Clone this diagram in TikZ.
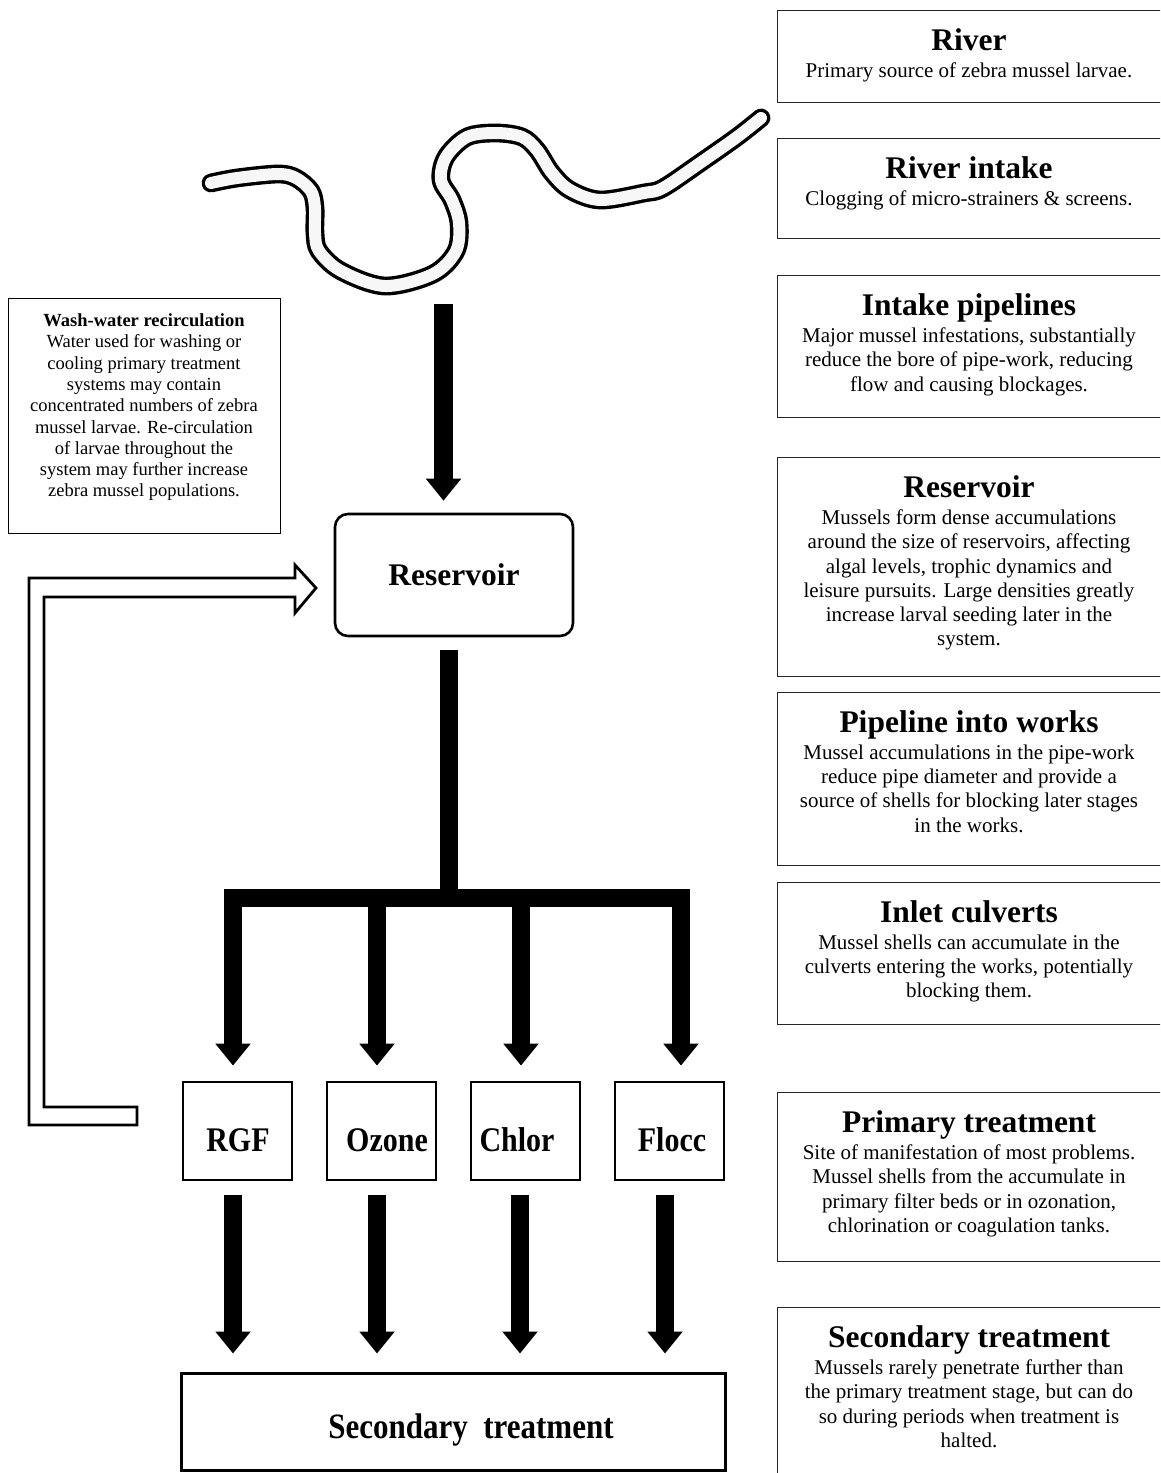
\documentclass[tikz,border=0pt]{standalone}
\usepackage{fontspec}
\setmainfont{Liberation Serif}
\usepackage{graphicx}
\usetikzlibrary{arrows.meta,calc}
\newcommand\infobox[5]{%
  \pgfmathsetmacro\ibh{#3-#2}%
  \node[ibox, minimum height=\ibh pt] (#1) at (777,#2) {};
  \node[ititle] (#1t) at (969,#2+40.6) {#4};
  \node[ibody] (#1b) at (969,#2+52.5) {#5};
}
\begin{document}
\begin{tikzpicture}[x=1pt,y=-1pt,
  ibox/.style={draw=black!85, line width=1.3pt, minimum width=390pt, inner sep=0pt, anchor=north west},
  ititle/.style={font=\fontsize{31.5}{36}\selectfont\bfseries, anchor=base, inner sep=0pt},
  ibody/.style={font=\fontsize{21}{24.3}\selectfont, align=center, anchor=north, inner sep=0pt},
  washbox/.style={draw=black, line width=1.3pt, anchor=north west, inner sep=0pt},
  washtext/.style={font=\fontsize{18.5}{21.3}\selectfont, align=center, anchor=north, inner sep=0pt},
  resbox/.style={draw=black, line width=2.6pt, rounded corners=13pt, minimum width=238pt, minimum height=122pt, inner sep=0pt, font=\fontsize{31.5}{36}\selectfont\bfseries},
  pbox/.style={draw=black, line width=2.8pt, minimum width=109pt, minimum height=98pt, inner sep=0pt},
  ptext/.style={font=\fontsize{30}{34}\selectfont\bfseries, anchor=base, inner sep=0pt},
  bigarrow/.style={line width=18.5pt, -{Triangle[width=34pt,length=22pt]}},
  bar/.style={line width=18pt},
  hollow/.style={draw=black, line width=2.8pt, fill=white, line join=miter},
  river/.style={draw=black, line width=3.4pt, double=white!97!black, double distance=12pt, line cap=round, line join=round},
]
\useasboundingbox (0,0) rectangle (1160,1473);
\fill[white] (0,0) rectangle (1160,1473);
\clip (0,0) rectangle (1160,1473);

% river
\draw[river] plot[smooth, tension=0.55] coordinates {
 (211,183) (237,178) (278,174) (296,178) (311,191) (315,208) (315,233)
 (319,251) (341,271) (385,286) (433,274) (456,251) (459,223) (452,200)
 (441,180) (446,157) (467,137) (496,133) (522,137) (537,150) (552,173)
 (570,190) (600,200) (644,193) (663,188) (700,163) (737,137) (761,118)};

% wash-water box
\node[washbox, minimum width=272pt, minimum height=235pt] (wash) at (8,298) {};
\node[washtext] (washt) at (144,313.5) {\textbf{Wash-water recirculation}\\Water used for washing or\\cooling primary treatment\\systems may contain\\concentrated numbers of zebra\\mussel larvae. Re-circulation\\of larvae throughout the\\system may further increase\\zebra mussel populations.};

% reservoir
\node[resbox] (res) at (454,575) {Reservoir};
\coordinate (rivout) at (443.5,304);
\draw[bigarrow, line width=19pt, shorten >=12pt] (rivout) -- (rivout |- res.north);

% primary treatment boxes
\node[pbox] (rgf) at (237.5,1131) {};
\node[pbox] (ozone) at (381.5,1131) {};
\node[pbox] (chlor) at (525.5,1131) {};
\node[pbox] (flocc) at (669.5,1131) {};
\node[ptext] at (238,1151.7) {\scalebox{1}[1.15]{RGF}};
\node[ptext] at (387,1151.7) {\scalebox{1}[1.15]{Ozone}};
\node[ptext] at (517,1151.7) {\scalebox{1}[1.15]{Chlor}};
\node[ptext] at (672,1151.7) {\scalebox{1}[1.15]{Flocc}};

% secondary
\node[pbox, minimum width=544pt, minimum height=97pt, line width=3pt] (sec) at (453,1421.5) {};
\node[ptext, font=\fontsize{31}{35}\selectfont\bfseries] at (471,1438.7) {\scalebox{1}[1.15]{Secondary\ \ treatment}};

% distribution tree
\coordinate (stemtop) at (449,650);
\coordinate (junc) at (449,898);
\coordinate (br1) at (233,898);
\coordinate (br2) at (377,898);
\coordinate (br3) at (521,898);
\coordinate (br4) at (681,898);
\draw[bar] (stemtop) -- (junc);
\draw[bar, line cap=rect] (br1) -- (br4);
\draw[bigarrow, line width=18pt, shorten >=15pt] (br1) -- (br1 |- rgf.north);
\draw[bigarrow, line width=18pt, shorten >=15pt] (br2) -- (br2 |- ozone.north);
\draw[bigarrow, line width=18pt, shorten >=15pt] (br3) -- (br3 |- chlor.north);
\draw[bigarrow, line width=18pt, shorten >=15pt] (br4) -- (br4 |- flocc.north);

% lower arrows
\coordinate (lo1) at (233,1195);
\coordinate (lo2) at (377,1195);
\coordinate (lo3) at (520,1195);
\coordinate (lo4) at (665,1195);
\draw[bigarrow, line width=18pt, shorten >=18pt] (lo1) -- (lo1 |- sec.north);
\draw[bigarrow, line width=18pt, shorten >=18pt] (lo2) -- (lo2 |- sec.north);
\draw[bigarrow, line width=18pt, shorten >=18pt] (lo3) -- (lo3 |- sec.north);
\draw[bigarrow, line width=18pt, shorten >=18pt] (lo4) -- (lo4 |- sec.north);

% hollow recirculation arrow
\draw[hollow] (137,1125) -- (29,1125) -- (29,578) -- (295,578) -- (295,565) -- (316,588)
  -- (295,613) -- (295,597) -- (44,597) -- (44,1107) -- (137,1107) -- cycle;

% info boxes
\infobox{iriver}{10}{102}{River}{Primary source of zebra mussel larvae.}
\infobox{iintake}{138}{238}{River intake}{Clogging of micro-strainers \& screens.}
\infobox{ipipe}{275}{417}{Intake pipelines}{Major mussel infestations, substantially\\reduce the bore of pipe-work, reducing\\flow and causing blockages.}
\infobox{ires}{457}{676}{Reservoir}{Mussels form dense accumulations\\around the size of reservoirs, affecting\\algal levels, trophic dynamics and\\leisure pursuits. Large densities greatly\\increase larval seeding later in the\\system.}
\infobox{iworks}{692}{865}{Pipeline into works}{Mussel accumulations in the pipe-work\\reduce pipe diameter and provide a\\source of shells for blocking later stages\\in the works.}
\infobox{iculv}{882}{1024}{Inlet culverts}{Mussel shells can accumulate in the\\culverts entering the works, potentially\\blocking them.}
\infobox{iprim}{1092}{1261}{Primary treatment}{Site of manifestation of most problems.\\Mussel shells from the accumulate in\\primary filter beds or in ozonation,\\chlorination or coagulation tanks.}
\infobox{isec}{1307}{1490}{Secondary treatment}{Mussels rarely penetrate further than\\the primary treatment stage, but can do\\so during periods when treatment is\\halted.}
\end{tikzpicture}
\end{document}
